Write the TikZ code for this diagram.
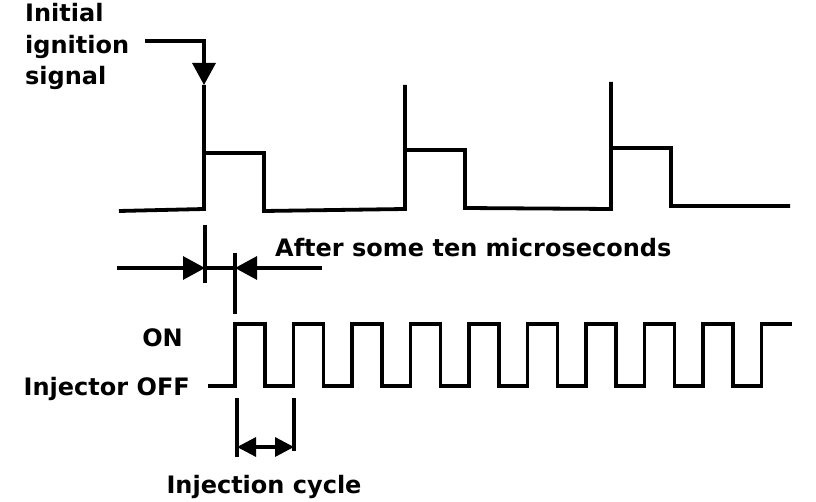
\documentclass[tikz,border=0pt]{standalone}
\usepackage{fontspec}
\setmainfont{DejaVu Sans}
\usetikzlibrary{arrows.meta}
\tikzset{>={Triangle[width=23pt,length=22pt]}}
\tikzset{
  wave/.style={line width=3.8pt,line join=miter},
  marker/.style={line width=3.3pt},
  lbl/.style={font=\bfseries\fontsize{24}{30}\selectfont,inner sep=0pt},
}

\begin{document}
\begin{tikzpicture}[x=1pt,y=-1pt]
  \useasboundingbox (0,0) rectangle (816,502); % picture frame in pixels
  % ignition signal label
  \node[lbl,anchor=base west] (initial) at (25,22) {Initial};
  \node[lbl,anchor=base west] (ignition) at (25,53.5) {ignition};
  \node[lbl,anchor=base west] (signal) at (25,85) {signal};
  \coordinate (sig start) at (145,41);
  \coordinate (spike) at (204,85);
  \draw[marker,->] (sig start) -| (spike); % pointer to first spike
  % ignition pulses
  \draw[wave] (119,211) \foreach \x/\t/\p in {204/85/153,405/85/150,611/82/148}{ % loop over pulses
      -- (\x,209) -- (\x,\t) -- (\x,\p) -- ++(60,0) -- ++(0,58)
    } -- (790,206);
  % delay marker
  \coordinate (d0 top) at (205,225);
  \coordinate (d0 bot) at (205,283);
  \coordinate (d1 top) at (235,253);
  \coordinate (d1 bot) at (235,314);
  \coordinate (d0) at (205,268);
  \coordinate (d1) at (235,268);
  \coordinate (d left) at (117,268);
  \coordinate (d right) at (322,268);
  \draw[marker] (d0 top) -- (d0 bot);
  \draw[marker] (d1 top) -- (d1 bot);
  \draw[marker,->] (d left) -- (d0);
  \draw[marker] (d0) -- (d1);
  \draw[marker,->] (d right) -- (d1);
  \node[lbl,anchor=base west] (after) at (275,257) {After some ten microseconds};
  % injector pulses
  \node[lbl,anchor=base east] (on) at (183,347) {ON};
  \node[lbl,anchor=base east] (off) at (190,395) {Injector OFF};
  \def\T{58.5} % injection period
  \draw[wave] (208,386) \foreach \i in {0,...,8}{ % loop over cycles
      -- ({235+\T*\i},386) -- ++(0,-62) -- ++(30,0) -- ++(0,62)
    } -- (761.5,386) -- ++(0,-62) -- (792,324);
  % injection cycle marker
  \coordinate (c0 top) at (237,398);
  \coordinate (c0 bot) at (237,457);
  \coordinate (c1 top) at (294,398);
  \coordinate (c1 bot) at (294,451);
  \coordinate (c0) at (237,447);
  \coordinate (c1) at (294,447);
  \draw[marker] (c0 top) -- (c0 bot);
  \draw[marker] (c1 top) -- (c1 bot);
  \draw[marker,<->,>={Triangle[width=19pt,length=19pt]}] (c0) -- (c1);
  \node[lbl,anchor=base] (cycle) at (264,493) {Injection cycle};
\end{tikzpicture}
\end{document}
